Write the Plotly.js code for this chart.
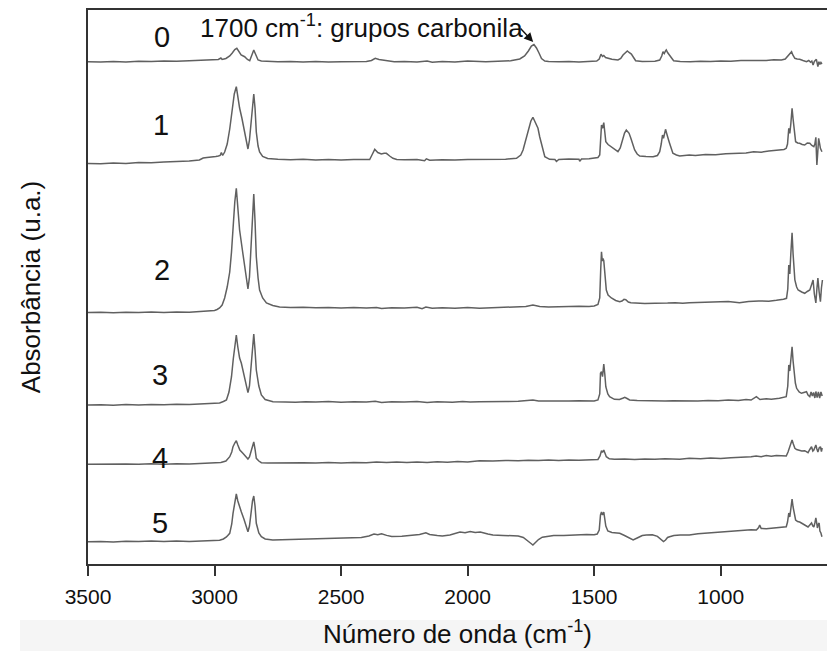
<!DOCTYPE html>
<html>
<head>
<meta charset="utf-8">
<script src="https://cdn.plot.ly/plotly-3.0.1.min.js"></script>
<style>html,body{margin:0;padding:0;background:#fff;}#chart{width:827px;height:651px;}</style>
</head>
<body>
<div id="chart"></div>
<script>
// Tick positions / labels of the wavenumber axis
var xTickVals = [3500, 3000, 2500, 2000, 1500, 1000];
var xTickText = ['3500', '3000', '2500', '2000', '1500', '1000'];

// Sample labels
var sampleNames = ['0', '1', '2', '3', '4', '5'];

// Spectra: [wavenumber (cm-1), stacked absorbance (u.a.)]
var spec0 = [[3500,502.3],[3450,502.0],[3400,502.6],[3350,502.1],[3300,502.8],[3250,502.4],[3200,503.0],[3150,502.7],[3100,503.3],[3060,503.6],[3030,504.2],[3000,504.0],[2985,504.6],[2975,506.0],[2970,504.5],[2955,505.5],[2940,508],[2930,511],[2920,514.5],[2912,515.7],[2905,513],[2895,509],[2881,507.3],[2870,504.5],[2861,503.3],[2855,507],[2850,512],[2845,514],[2840,511],[2833,506],[2828,504],[2815,503],[2790,502.5],[2750,502.2],[2700,502.6],[2650,502.0],[2600,502.4],[2550,501.9],[2500,502.3],[2450,502.0],[2400,502.4],[2380,503.5],[2365,505.7],[2350,504.5],[2335,503.8],[2315,502.8],[2290,502.2],[2250,502.5],[2200,502.0],[2160,502.9],[2140,501.8],[2100,502.6],[2050,502.1],[2000,503.0],[1960,502.3],[1928,502.3],[1880,502.8],[1830,503.2],[1794,505],[1775,508],[1760,513],[1748,518],[1738,519.5],[1728,516],[1718,511],[1708,505.5],[1695,503],[1680,502.5],[1640,502.2],[1600,502.6],[1560,502.0],[1520,502.5],[1490,503],[1480,505],[1473,509.7],[1467,507.5],[1462,508.5],[1455,506.5],[1446,505.7],[1430,504.8],[1406,504],[1395,505.5],[1386,509],[1376,512],[1369,513],[1362,511.5],[1353,510],[1343,506],[1336,503.3],[1310,502.5],[1281,502.3],[1260,502.8],[1241,504],[1233,508],[1228,512.3],[1223,510.5],[1218,513],[1215,514],[1210,511.5],[1202,509],[1194,505.5],[1186,503.3],[1160,502.6],[1120,502.3],[1080,502.8],[1040,502.5],[1000,503.0],[960,502.8],[920,503.4],[880,503.2],[850,503.7],[820,503.6],[790,504.2],[760,504.0],[745,505],[738,507],[734,509],[728,510.5],[724,511.5],[720,512.3],[715,509],[707,505.7],[698,505],[688,504.7],[675,503.5],[661,502.3],[652,503.5],[645,501.8],[640,503],[635,499],[630,502.5],[622,504.7],[616,497.3],[612,502.3],[608,499.5],[604,501.5],[600,500]];

var spec1 = [[3500,400.5],[3450,400.2],[3400,401],[3350,400.6],[3300,401.4],[3250,401.2],[3200,402],[3150,402.3],[3100,403],[3060,404],[3045,406],[3030,406.5],[3010,406.8],[2995,407.5],[2985,408],[2978,408.5],[2973,411.5],[2968,408.5],[2960,412],[2950,420],[2940,435],[2930,455],[2922,470],[2914,477.3],[2908,466],[2901,456],[2892,446],[2881,433],[2874,422],[2868,415],[2862,424],[2856,443],[2850,461],[2845,470],[2840,456],[2835,432],[2828,418],[2822,412],[2810,407.5],[2790,405.5],[2750,404.8],[2700,404.3],[2650,404.8],[2600,404.0],[2550,404.5],[2500,403.9],[2450,404.4],[2400,404.0],[2387,404.5],[2378,409],[2367,414.7],[2355,411.5],[2341,410],[2330,410.8],[2321,410.7],[2308,408],[2295,405.7],[2280,404.5],[2250,404.2],[2200,404.5],[2170,403.2],[2163,405.2],[2150,403.8],[2100,404.3],[2050,403.9],[2000,404.6],[1953,404.7],[1900,404.2],[1850,404.8],[1807,405.7],[1790,409],[1781,414],[1770,424],[1761,434],[1750,443],[1742,446.7],[1736,443],[1731,440.7],[1722,435.7],[1715,427],[1708,419],[1700,411],[1695,407.3],[1676,404.7],[1655,404.5],[1649,402.5],[1640,404.6],[1600,405],[1560,404.8],[1557,402.8],[1550,405],[1520,405.3],[1500,405.7],[1485,406.5],[1478,409],[1474,425],[1471,439],[1467,435.7],[1462,441.3],[1458,432],[1454,422.3],[1445,419.5],[1432,417.3],[1418,414.5],[1406,412.3],[1397,416],[1389,424],[1380,431],[1373,434],[1367,432],[1362,430.7],[1355,425.7],[1348,420],[1340,414],[1330,410],[1320,408],[1295,407.5],[1267,407.3],[1250,408.5],[1241,412.3],[1235,420],[1230,429],[1226,425.7],[1222,431],[1218,434.7],[1214,431],[1211,429],[1206,424],[1202,420.7],[1195,414],[1189,410.7],[1175,409],[1162,408],[1124,409],[1100,408.6],[1060,409.5],[1020,409.2],[980,410.3],[940,410.8],[926,411.3],[900,411],[870,412.2],[840,411.8],[810,413],[780,413.6],[768,414],[750,414.5],[741,415.7],[736,420],[731,435.7],[727,430.7],[723,440],[718,455.7],[714,445],[710,434],[704,422.3],[696,421],[688,420.7],[678,419.5],[668,419],[658,421],[648,420.7],[640,418.5],[632,417.3],[628,420],[624,426.7],[622,412],[620,399],[617,410],[613,425.7],[609,420],[606,415.7],[600,412.3]];

var spec2 = [[3500,251.5],[3450,251.8],[3400,251.2],[3350,251.7],[3300,251.4],[3250,252],[3200,251.5],[3150,252.1],[3100,251.8],[3050,252.4],[3020,252.8],[3000,253.5],[2990,254.5],[2980,256],[2970,259],[2960,266],[2950,277],[2940,292],[2933,312],[2927,337],[2920,362],[2914,375.7],[2908,356],[2901,334],[2890,314],[2880,297.3],[2872,283],[2868,275],[2862,287],[2856,316],[2850,350],[2845,370],[2840,343],[2835,307.3],[2828,286],[2822,274],[2810,266],[2795,261],[2770,258.5],[2743,257],[2700,256.4],[2650,256.8],[2600,256.2],[2550,256.6],[2500,256.1],[2450,256.5],[2400,256.0],[2360,256.6],[2340,255.4],[2300,256.3],[2250,255.9],[2200,256.8],[2180,255.2],[2165,256.9],[2140,255.7],[2100,256.2],[2050,255.8],[2000,256.4],[1953,255.7],[1900,256.2],[1850,256.6],[1800,256.9],[1770,257.6],[1742,259],[1715,257.6],[1680,257.1],[1640,257.4],[1600,257.2],[1560,257.7],[1520,257.5],[1500,258],[1485,259.5],[1478,266],[1474,295],[1471,312.3],[1468,303],[1465,305.5],[1462,303.3],[1458,290],[1452,274],[1445,269],[1432,266],[1415,263.5],[1399,262.3],[1390,263],[1382,264.7],[1375,264.3],[1365,262],[1355,261.3],[1330,260.9],[1300,260.5],[1260,260.8],[1230,260.6],[1210,260.9],[1180,261.2],[1150,260.8],[1124,261.3],[1090,261.6],[1050,262],[1010,261.7],[970,262.4],[926,261.3],[890,262.6],[850,263],[810,262.8],[780,263.7],[768,264],[752,264.8],[740,265.7],[735,275],[731,299],[727,290],[723,310],[718,331.3],[714,310],[710,292],[707,284],[700,277],[694,274],[680,272],[668,270.7],[658,272.5],[648,274],[640,280],[635,284],[630,270],[624,261],[620,275],[616,286],[611,272],[606,262.3],[602,276],[598,284]];

var spec3 = [[3500,159],[3450,159.3],[3400,158.8],[3350,159.4],[3300,159.1],[3250,159.6],[3200,159.2],[3150,159.7],[3100,159.4],[3050,159.9],[3000,160.3],[2980,161],[2965,162.5],[2953,164],[2943,172],[2933,187.3],[2926,205],[2920,217.3],[2914,229],[2908,217],[2901,206],[2894,200.7],[2885,190],[2876,178],[2868,171.3],[2862,178],[2856,198],[2850,220],[2845,230],[2840,214],[2835,194],[2825,178],[2815,169],[2800,164.5],[2769,162.3],[2720,162.1],[2680,161.7],[2640,162.2],[2600,161.9],[2550,162.4],[2500,161.8],[2450,162.2],[2400,161.9],[2365,162.8],[2340,161.6],[2300,162.3],[2250,161.9],[2200,162.5],[2160,161.5],[2120,162.2],[2060,161.8],[2020,162.6],[1990,161.9],[1953,162.3],[1900,162.1],[1850,162.5],[1800,162.8],[1760,163.6],[1742,164],[1720,163.1],[1680,162.8],[1640,163.2],[1600,162.9],[1560,163.3],[1530,162.8],[1500,163],[1485,164],[1478,170],[1475,190.7],[1471,192.3],[1467,187.3],[1462,200],[1458,190],[1454,177.3],[1446,170],[1439,167.3],[1420,164.7],[1400,164.5],[1385,166],[1379,166.7],[1370,165.5],[1360,164],[1330,163.4],[1300,163.2],[1260,163.5],[1220,162.9],[1190,163.3],[1162,163],[1124,163.3],[1090,162.9],[1050,163.5],[1010,163.2],[970,164],[930,163.6],[900,164.4],[880,163.9],[859,167.3],[845,164.5],[820,165.2],[800,164.8],[768,165.7],[750,166.5],[741,167.3],[735,178],[731,199],[727,193],[723,205],[718,217.3],[714,203],[710,190.7],[705,181],[700,175.7],[690,172],[681,170.7],[668,171.5],[661,172.3],[655,169],[648,167.3],[643,172],[638,168],[633,171.5],[628,166],[624,172.5],[619,166.5],[614,172],[609,166],[604,172],[599,168]];

var spec4 = [[3500,99.7],[3450,99.9],[3400,99.5],[3350,100],[3300,99.7],[3250,100.2],[3200,99.8],[3150,100.3],[3100,100],[3050,100.4],[3000,100.8],[2975,101.5],[2955,103],[2940,107.3],[2932,112],[2927,117.3],[2920,121],[2914,123.3],[2908,119],[2900,114],[2888,110.7],[2877,107.5],[2868,105],[2862,107],[2856,113],[2850,119],[2845,122],[2840,115],[2835,105.7],[2825,103],[2815,101.3],[2790,101],[2740,101.2],[2700,100.8],[2650,101.3],[2600,101],[2550,101.5],[2500,101.1],[2450,101.6],[2400,101.2],[2360,102],[2320,101.4],[2280,101.9],[2240,101.5],[2200,102],[2160,101.6],[2120,102.2],[2080,101.8],[2040,102.4],[2000,102.1],[1953,103.3],[1900,103],[1850,103.6],[1800,103.2],[1760,103.8],[1720,103.4],[1680,104],[1640,103.6],[1600,104.1],[1560,103.7],[1520,104.2],[1500,104],[1485,104.5],[1477,108],[1471,113.3],[1467,111.5],[1462,114],[1456,110],[1452,107.3],[1440,105.2],[1420,104.7],[1380,105],[1340,104.6],[1300,105.1],[1260,104.7],[1220,105.2],[1180,104.8],[1162,104.7],[1124,105.7],[1080,105.3],[1040,106],[1000,105.6],[960,106.3],[920,106.8],[900,106.4],[880,107.2],[860,108],[840,107.3],[820,108.4],[800,107.8],[780,108.5],[760,108.1],[741,108],[734,112],[728,116],[722,121],[718,124],[713,120],[707,115.7],[700,114.5],[690,114],[680,113],[668,113.3],[660,111.5],[655,111.3],[648,114.5],[641,117.3],[636,113],[632,114],[628,116.5],[624,119],[620,115],[616,112],[611,116],[606,117.3],[602,112.5],[599,116]];

var spec5 = [[3500,22.3],[3450,22.6],[3400,22.1],[3350,22.7],[3300,22.4],[3250,22.9],[3200,22.5],[3150,23],[3100,22.6],[3050,23.1],[3000,23.3],[2980,23.8],[2965,25],[2953,27],[2940,30.7],[2932,40],[2927,50.7],[2920,63],[2914,70],[2908,63],[2901,56],[2894,52],[2884,45],[2876,38],[2868,32.3],[2862,38],[2856,52],[2850,63],[2845,68],[2840,58],[2835,40.7],[2825,31],[2815,27.3],[2800,25],[2770,24],[2740,24.2],[2700,23.8],[2650,24.4],[2600,24.6],[2550,25.1],[2500,25.4],[2450,25.9],[2420,26.4],[2390,28],[2370,30],[2355,29.2],[2340,30.3],[2320,28.6],[2300,27.4],[2260,27.8],[2220,28.6],[2190,29.5],[2165,31.3],[2150,29.6],[2120,28.4],[2100,28],[2070,29],[2050,30.5],[2030,32],[2010,31.2],[1990,32.4],[1970,31.4],[1950,31.9],[1920,30],[1900,29],[1860,28.6],[1820,28.3],[1800,28],[1780,26.5],[1765,24],[1752,21],[1742,19],[1732,21.5],[1720,24.5],[1705,26.8],[1689,27.3],[1660,28.4],[1620,28.6],[1590,29],[1557,29.2],[1530,29.5],[1500,29.3],[1488,30],[1480,34],[1475,49],[1471,52],[1467,49],[1462,52],[1457,45],[1454,38],[1446,33],[1430,31.5],[1410,31],[1399,30.7],[1380,28.5],[1360,25.5],[1346,24],[1330,26],[1310,28.5],[1294,29],[1270,29.2],[1250,27.6],[1240,25.5],[1232,23],[1226,22.5],[1218,24],[1210,26.5],[1202,27.3],[1185,28.5],[1160,29],[1124,29],[1090,30.2],[1060,30.8],[1030,31.5],[1000,32.4],[970,33],[940,33.5],[910,33.8],[880,34.3],[859,34],[850,36.5],[846,39],[840,35.5],[820,35.3],[800,35.8],[780,36.2],[768,36],[750,37],[741,37.3],[736,42],[731,51],[727,47],[723,56],[718,65],[714,57],[710,51],[704,44],[696,42.5],[688,42],[678,40.5],[668,39],[660,37.5],[655,37],[648,39],[641,41],[636,38],[632,37],[628,41],[624,46],[620,40],[618,36],[614,40],[611,41],[608,33],[604,31],[600,27.3]];

var spectra = [spec0, spec1, spec2, spec3, spec4, spec5];

var FONT = 'Liberation Sans, Arial, Helvetica, sans-serif';

var traces = spectra.map(function (s, i) {
  return {
    type: 'scatter', mode: 'lines', name: sampleNames[i],
    x: s.map(function (p) { return p[0]; }),
    y: s.map(function (p) { return p[1]; }),
    line: { color: '#606060', width: 1.5 },
    hoverinfo: 'skip', showlegend: false
  };
});

// label anchor points (wavenumber, height)
var labelPos = [[3209, 527], [3213, 439], [3209, 294], [3217, 189], [3217, 106], [3217, 41]];

var annotations = sampleNames.map(function (n, i) {
  return {
    x: labelPos[i][0], y: labelPos[i][1], xref: 'x', yref: 'y',
    text: n, showarrow: false, xanchor: 'center', yanchor: 'middle',
    font: { family: FONT, size: 29, color: '#111' }
  };
});
annotations.push({
  x: 2420, y: 538, xref: 'x', yref: 'y',
  text: '1700 cm<sup>-1</sup>: grupos carbonila', showarrow: false,
  xanchor: 'center', yanchor: 'middle',
  font: { family: FONT, size: 26, color: '#111' }
});
annotations.push({
  x: 1741, y: 522, xref: 'x', yref: 'y', text: '',
  showarrow: true, ax: -14, ay: -15, arrowhead: 2, arrowsize: 1.3,
  arrowwidth: 1.4, arrowcolor: '#111', standoff: 0
});

var layout = {
  width: 827, height: 651,
  margin: { l: 88, r: 0, t: 10, b: 87 },
  paper_bgcolor: '#ffffff', plot_bgcolor: '#ffffff',
  font: { family: FONT, color: '#111' },
  xaxis: {
    range: [3500, 580], autorange: false,
    tickvals: xTickVals, ticktext: xTickText,
    ticks: 'outside', ticklen: 10, tickwidth: 2, tickcolor: '#333',
    ticklabelstandoff: 3,
    showline: true, linewidth: 2, linecolor: '#333', mirror: true,
    showgrid: false, zeroline: false,
    tickfont: { family: FONT, size: 21, color: '#111' },
    title: { text: 'Número de onda (cm<sup>-1</sup>)', font: { family: FONT, size: 26, color: '#111' }, standoff: 18 }
  },
  yaxis: {
    range: [0, 554], autorange: false,
    showticklabels: false, ticks: '',
    showline: true, linewidth: 2, linecolor: '#333',
    showgrid: false, zeroline: false,
    title: { text: 'Absorbância (u.a.)', font: { family: FONT, size: 26, color: '#111' }, standoff: 38 }
  },
  shapes: [{
    type: 'rect', xref: 'paper', yref: 'paper', layer: 'below',
    x0: -0.092, x1: 1.0, y0: -0.157, y1: -0.101,
    fillcolor: '#f5f5f5', line: { width: 0 }
  }],
  annotations: annotations
};

Plotly.newPlot('chart', traces, layout, { displayModeBar: false, staticPlot: true });
</script>
</body>
</html>
